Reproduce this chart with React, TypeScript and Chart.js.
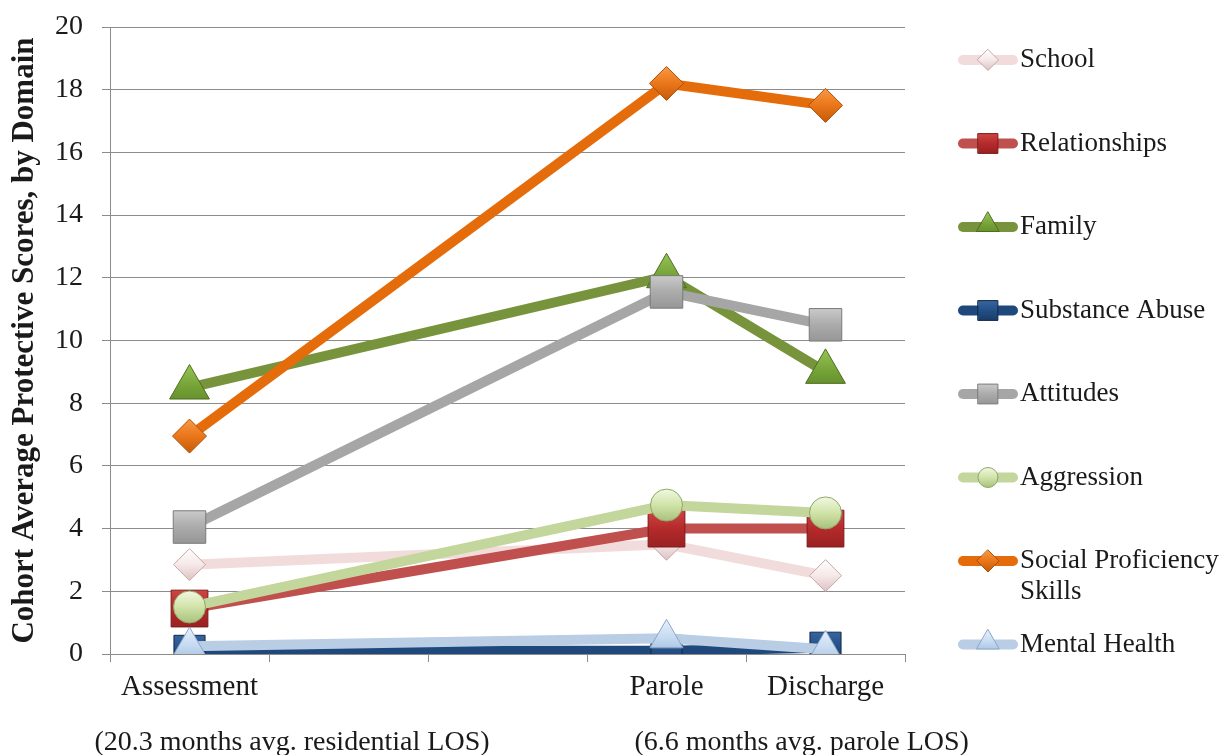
import { useEffect, useRef } from 'react';
import { Chart, registerables } from 'chart.js';

Chart.register(...registerables);

// Stages of the program; the two blank slots keep the residential period wide.
const stages = ['Assessment', '', '', 'Parole', 'Discharge'];

// Cohort average protective scores per domain at each stage.
const school = [2.85, null, null, 3.5, 2.5];
const relationships = [1.45, null, null, 4.0, 4.0];
const family = [8.5, null, null, 12.05, 9.0];
const substanceAbuse = [0.1, null, null, 0.1, 0.2];
const attitudes = [4.05, null, null, 11.55, 10.5];
const aggression = [1.5, null, null, 4.75, 4.5];
const socialProficiency = [6.95, null, null, 18.2, 17.5];
const mentalHealth = [0.25, null, null, 0.5, 0.15];

const domainNames: (string | string[])[] = [
  'School',
  'Relationships',
  'Family',
  'Substance Abuse',
  'Attitudes',
  'Aggression',
  ['Social Proficiency', 'Skills'],
  'Mental Health',
];

const yAxisTitle = 'Cohort Average Protective Scores, by Domain';
const stayNotes = ['(20.3 months avg. residential LOS)', '(6.6 months avg. parole LOS)'];

const SERIF = '"Liberation Serif", "Times New Roman", serif';
const TEXT = '#1a1a1a';
const GRID = '#8c8c8c';

type Shape = 'rectRot' | 'rect' | 'triangle' | 'circle';

interface SeriesStyle {
  line: string;
  light: string;
  fill: string;
  dark: string;
  edge: string;
  shape: Shape;
  radius: number;
  legendRadius: number;
}

const styles: SeriesStyle[] = [
  { line: '#f2dcdb', light: '#ffffff', fill: '#f6e8e8', dark: '#dcc2c2', edge: '#c7a7a7', shape: 'rectRot', radius: 16, legendRadius: 10.5 },
  { line: '#c0504d', light: '#d8504c', fill: '#b52a2b', dark: '#8e1d1e', edge: '#7e1a1b', shape: 'rect', radius: 26, legendRadius: 14 },
  { line: '#77933c', light: '#95c456', fill: '#74a136', dark: '#5a8128', edge: '#4e6d21', shape: 'triangle', radius: 23, legendRadius: 13 },
  { line: '#1f497d', light: '#3f6ea8', fill: '#234f86', dark: '#15355c', edge: '#0f2848', shape: 'rect', radius: 22, legendRadius: 14 },
  { line: '#a6a6a6', light: '#d6d6d6', fill: '#ababab', dark: '#8e8e8e', edge: '#7a7a7a', shape: 'rect', radius: 23, legendRadius: 14 },
  { line: '#c3d69b', light: '#f1f8e0', fill: '#d0e3a8', dark: '#a9c17c', edge: '#8ea86a', shape: 'circle', radius: 16, legendRadius: 10 },
  { line: '#e46c0a', light: '#f79a45', fill: '#ea761a', dark: '#c45b08', edge: '#ad5006', shape: 'rectRot', radius: 17, legendRadius: 11 },
  { line: '#b9cde5', light: '#e8f1fb', fill: '#c4d9f0', dark: '#9cb7d8', edge: '#8aa6c8', shape: 'triangle', radius: 19, legendRadius: 13 },
];

const seriesValues = [
  school,
  relationships,
  family,
  substanceAbuse,
  attitudes,
  aggression,
  socialProficiency,
  mentalHealth,
];

function shade(ctx: CanvasRenderingContext2D, st: SeriesStyle, x: number, y: number, r: number) {
  const g = ctx.createLinearGradient(x, y - r, x, y + r);
  g.addColorStop(0, st.light);
  g.addColorStop(0.5, st.fill);
  g.addColorStop(1, st.dark);
  return g;
}

function markerPath(ctx: CanvasRenderingContext2D, shape: Shape, x: number, y: number, r: number) {
  ctx.beginPath();
  if (shape === 'circle') {
    ctx.arc(x, y, r, 0, Math.PI * 2);
  } else if (shape === 'rect') {
    const s = Math.SQRT1_2 * r;
    ctx.rect(x - s, y - s, 2 * s, 2 * s);
  } else if (shape === 'rectRot') {
    ctx.moveTo(x, y - r);
    ctx.lineTo(x + r, y);
    ctx.lineTo(x, y + r);
    ctx.lineTo(x - r, y);
    ctx.closePath();
  } else {
    const h = (r * Math.sqrt(3)) / 2;
    ctx.moveTo(x, y - r);
    ctx.lineTo(x + h, y + r / 2);
    ctx.lineTo(x - h, y + r / 2);
    ctx.closePath();
  }
}

// Legend down the right-hand side: a thick line sample with the marker, then the name.
const sideLegend = {
  id: 'sideLegend',
  afterDraw(chart: Chart) {
    const { ctx, chartArea } = chart;
    const sampleLeft = chartArea.right + 53;
    const sampleRight = sampleLeft + 60;
    const textLeft = sampleRight + 2;
    const firstRow = 60;
    const rowStep = 83.5;
    ctx.save();
    styles.forEach((st, i) => {
      const y = firstRow + i * rowStep;
      ctx.strokeStyle = st.line;
      ctx.lineWidth = 10;
      ctx.lineCap = 'round';
      ctx.beginPath();
      ctx.moveTo(sampleLeft + 5, y);
      ctx.lineTo(sampleRight - 5, y);
      ctx.stroke();
      const cx = (sampleLeft + sampleRight) / 2;
      const cy = st.shape === 'triangle' ? y - 2 : y;
      markerPath(ctx, st.shape, cx, cy, st.legendRadius);
      ctx.fillStyle = shade(ctx, st, cx, cy, st.legendRadius);
      ctx.fill();
      ctx.lineWidth = 1;
      ctx.strokeStyle = st.edge;
      ctx.stroke();
      ctx.fillStyle = TEXT;
      ctx.font = `27px ${SERIF}`;
      ctx.textAlign = 'left';
      ctx.textBaseline = 'middle';
      const name = domainNames[i];
      const lines = Array.isArray(name) ? name : [name];
      lines.forEach((ln, k) => ctx.fillText(ln, textLeft, y + k * 31));
    });
    ctx.restore();
  },
};

// Length-of-stay notes under the stage labels.
const stayNotesPlugin = {
  id: 'stayNotes',
  afterDraw(chart: Chart) {
    const { ctx } = chart;
    const xs = chart.scales.x;
    ctx.save();
    ctx.fillStyle = TEXT;
    ctx.font = `28px ${SERIF}`;
    ctx.textBaseline = 'middle';
    ctx.textAlign = 'left';
    ctx.fillText(stayNotes[0], xs.getPixelForValue(0) - 95, 743);
    ctx.fillText(stayNotes[1], xs.getPixelForValue(3) - 32, 743);
    ctx.restore();
  },
};

export default function App() {
  const canvasRef = useRef<HTMLCanvasElement | null>(null);

  useEffect(() => {
    document.body.style.margin = '0';
    const canvas = canvasRef.current;
    if (!canvas) return;

    const datasets = seriesValues.map((values, i) => {
      const st = styles[i];
      return {
        label: Array.isArray(domainNames[i]) ? (domainNames[i] as string[]).join(' ') : (domainNames[i] as string),
        data: values,
        borderColor: st.line,
        borderWidth: 10,
        backgroundColor: st.fill,
        pointStyle: st.shape,
        pointRadius: st.radius,
        pointHoverRadius: st.radius,
        pointBackgroundColor: (c: any) => {
          const xs = c.chart.scales?.x;
          const ys = c.chart.scales?.y;
          if (!xs || !ys || c.raw == null) return st.fill;
          const px = xs.getPixelForValue(c.dataIndex);
          const py = ys.getPixelForValue(c.raw);
          if (!isFinite(px) || !isFinite(py)) return st.fill;
          return shade(c.chart.ctx, st, px, py, st.radius);
        },
        pointBorderColor: st.edge,
        pointBorderWidth: 1,
        spanGaps: true,
        tension: 0,
        order: styles.length - i,
      };
    });

    const chart = new Chart(canvas, {
      type: 'line',
      data: { labels: stages, datasets },
      options: {
        animation: false,
        responsive: true,
        maintainAspectRatio: false,
        layout: { padding: { top: 27, right: 314, bottom: 0, left: 0 } },
        plugins: {
          legend: { display: false },
          tooltip: { enabled: false },
        },
        scales: {
          x: {
            offset: true,
            grid: {
              display: true,
              drawOnChartArea: false,
              drawTicks: true,
              tickLength: 8,
              offset: true,
              color: GRID,
            },
            border: { color: GRID },
            ticks: {
              color: TEXT,
              font: { family: SERIF, size: 29 },
              padding: 8,
              maxRotation: 0,
              autoSkip: false,
            },
            afterFit: (scale: any) => {
              scale.height = 101;
            },
          },
          y: {
            min: 0,
            max: 20,
            ticks: {
              stepSize: 2,
              color: TEXT,
              font: { family: SERIF, size: 28 },
              padding: 19,
            },
            grid: { color: GRID, tickLength: 8 },
            border: { color: GRID },
            title: {
              display: true,
              text: yAxisTitle,
              color: TEXT,
              font: { family: SERIF, size: 31, weight: 'bold' },
              padding: { top: 6, bottom: 0 },
            },
            afterFit: (scale: any) => {
              scale.width = 110;
              // the tick labels only need half a line above the top gridline
              scale.paddingTop = 18;
              scale.paddingBottom = 18;
            },
          },
        },
      },
      plugins: [sideLegend, stayNotesPlugin],
    });

    return () => chart.destroy();
  }, []);

  return (
    <div style={{ position: 'relative', width: 1219, height: 755, background: '#ffffff' }}>
      <canvas ref={canvasRef} />
    </div>
  );
}
